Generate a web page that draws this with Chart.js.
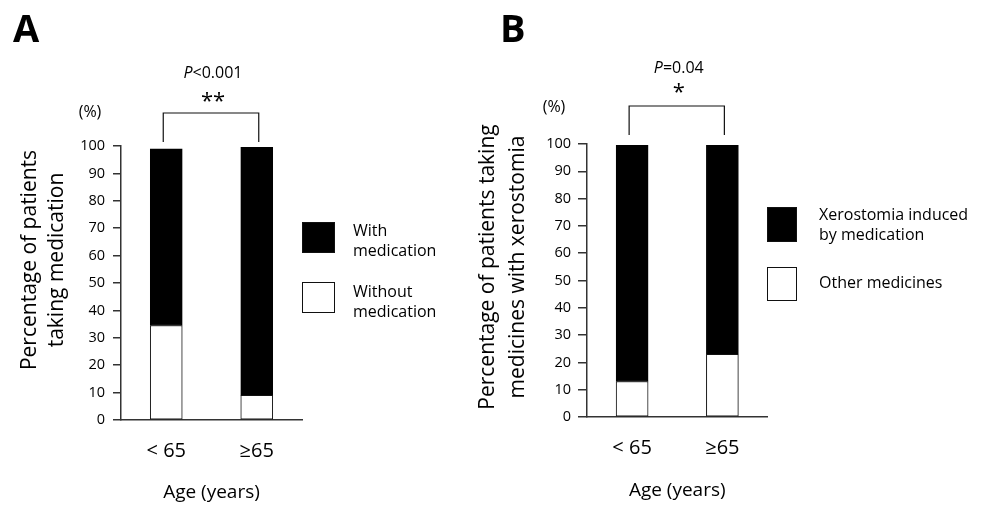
<!DOCTYPE html>
<html>
<head>
<meta charset="utf-8">
<script src="https://cdn.jsdelivr.net/npm/chart.js@4"></script>
<style>
  body { margin: 0; background: #fff; }
  #wrap { position: relative; width: 983px; height: 505px; }
  canvas { position: absolute; top: 0; }
</style>
</head>
<body>
<div id="wrap">
  <canvas id="chartA" width="460" height="505" style="left:0"></canvas>
  <canvas id="chartB" width="523" height="505" style="left:460px"></canvas>
</div>
<script>
// data
const ageGroups = ['< 65', '≥65'];

// panel A
const withoutMedication = [34.5, 9];
const withMedication = [64.5, 90.5];
const legendA = [['With', 'medication'], ['Without', 'medication']];
const yTitleA = ['Percentage of patients', 'taking medication'];

// panel B
const otherMedicines = [13, 23];
const xerostomiaByMedication = [86.5, 76.5];
const legendB = [['Xerostomia induced', 'by medication'], ['Other medicines']];
const yTitleB = ['Percentage of patients taking', 'medicines with xerostomia'];

const xTitle = 'Age (years)';
const yMin = 0, yMax = 100, yStep = 10;

const FONT = '"Open Sans", "DejaVu Sans", sans-serif';
const INK = '#111';

// extra drawing: panel letter, y title, (%), bracket, p value, legend
const decor = {
  id: 'decor',
  afterDraw(chart, args, o) {
    const ctx = chart.ctx;
    ctx.save();
    ctx.fillStyle = '#000';

    // panel letter
    ctx.font = 'bold 38px ' + FONT;
    ctx.textAlign = 'left';
    ctx.textBaseline = 'alphabetic';
    ctx.fillText(o.letter, o.letterX, 42);

    // rotated y title
    ctx.save();
    ctx.translate(o.yTitleX, o.yTitleY);
    ctx.rotate(-Math.PI / 2);
    ctx.font = '21px ' + FONT;
    ctx.textAlign = 'center';
    ctx.textBaseline = 'middle';
    const n = o.yTitle.length;
    o.yTitle.forEach((t, i) => ctx.fillText(t, 0, (i - (n - 1) / 2) * o.yTitleGap));
    ctx.restore();

    // (%)
    ctx.font = '16px ' + FONT;
    ctx.textAlign = 'center';
    ctx.textBaseline = 'middle';
    ctx.fillText('(%)', o.pctX, o.pctY);

    // significance bracket over the two bars
    const meta = chart.getDatasetMeta(1);
    const x1 = meta.data[0].x - 3, x2 = meta.data[1].x + 2;
    ctx.strokeStyle = INK;
    ctx.lineWidth = 1.2;
    ctx.beginPath();
    ctx.moveTo(x1, o.brBottom);
    ctx.lineTo(x1, o.brTop);
    ctx.lineTo(x2, o.brTop);
    ctx.lineTo(x2, o.brBottom);
    ctx.stroke();
    const mid = (x1 + x2) / 2 + 2;

    ctx.font = '22px ' + FONT;
    ctx.textBaseline = 'alphabetic';
    ctx.fillText(o.stars, mid, o.starsY);

    // P value, italic P
    const fP = 'italic 16px ' + FONT, fR = '16px ' + FONT;
    ctx.font = fP; const wP = ctx.measureText('P').width;
    ctx.font = fR; const wR = ctx.measureText(o.pRest).width;
    let px = mid - (wP + wR) / 2;
    ctx.textAlign = 'left';
    ctx.textBaseline = 'middle';
    ctx.font = fP; ctx.fillText('P', px, o.pY);
    ctx.font = fR; ctx.fillText(o.pRest, px + wP, o.pY);

    // legend (black series first, then white)
    const order = [1, 0];
    ctx.font = '16px ' + FONT;
    order.forEach((di, k) => {
      const ds = chart.data.datasets[di];
      const b = o.legendBoxes[k];
      ctx.fillStyle = ds.backgroundColor;
      ctx.fillRect(b[0], b[1], b[2], b[3]);
      ctx.strokeStyle = INK;
      ctx.lineWidth = 1;
      ctx.strokeRect(b[0] + 0.5, b[1] + 0.5, b[2] - 1, b[3] - 1);
      ctx.fillStyle = '#000';
      o.legendText[di].forEach((t, i) => ctx.fillText(t, o.legendTextX, o.legendTextY[k] + i * 20));
    });

    ctx.restore();
  }
};

function makePanel(id, low, high, lowLabel, highLabel, lay) {
  return new Chart(document.getElementById(id), {
    type: 'bar',
    data: {
      labels: ageGroups,
      datasets: [
        { label: lowLabel, data: low, backgroundColor: '#ffffff', borderColor: INK, borderWidth: 1, barThickness: 32, borderSkipped: false },
        { label: highLabel, data: high, backgroundColor: '#000000', borderColor: '#000', borderWidth: 1, barThickness: 32, borderSkipped: false }
      ]
    },
    options: {
      responsive: false,
      animation: false,
      layout: { padding: { top: lay.top, right: lay.right, left: 0, bottom: 0 } },
      plugins: {
        legend: { display: false },
        tooltip: { enabled: false },
        decor: lay.decor
      },
      scales: {
        x: {
          stacked: true,
          grid: { display: true, drawOnChartArea: false, drawTicks: false },
          border: { display: true, color: '#333', width: 1.5 },
          ticks: { color: '#000', font: { family: FONT, size: 20 }, padding: 19 },
          title: { display: true, text: xTitle, color: '#000', font: { family: FONT, size: 19 }, padding: { top: 0, bottom: lay.xTitlePad } },
          afterFit(s) { s.height = lay.xHeight; }
        },
        y: {
          stacked: true,
          min: yMin,
          max: yMax,
          grid: { drawOnChartArea: false, drawTicks: true, tickLength: lay.tickLen, color: '#333', lineWidth: 1.5 },
          border: { display: true, color: '#333', width: 1.5 },
          ticks: { stepSize: yStep, color: '#000', font: { family: FONT, size: 14.5 }, padding: lay.tickPad },
          afterFit(s) { s.width = lay.yWidth; }
        }
      }
    },
    plugins: [decor]
  });
}

makePanel('chartA', withoutMedication, withMedication, legendA[1].join(' '), legendA[0].join(' '), {
  top: 146, right: 158, yWidth: 121, xHeight: 85, tickLen: 8, tickPad: 8, xTitlePad: 1,
  decor: {
    letter: 'A', letterX: 13,
    yTitle: yTitleA, yTitleX: 43.5, yTitleY: 260, yTitleGap: 27,
    pctX: 90, pctY: 112,
    brTop: 113, brBottom: 142,
    stars: '**', starsY: 108,
    pRest: '<0.001', pY: 73,
    legendBoxes: [[302, 222, 33, 31], [302, 282, 33, 31]],
    legendText: [legendA[1], legendA[0]],
    legendTextX: 353, legendTextY: [231, 292]
  }
});

makePanel('chartB', otherMedicines, xerostomiaByMedication, legendB[1].join(' '), legendB[0].join(' '), {
  top: 144, right: 215.5, yWidth: 127, xHeight: 88, tickLen: 9, tickPad: 7, xTitlePad: 3,
  decor: {
    letter: 'B', letterX: 40,
    yTitle: yTitleB, yTitleX: 43, yTitleY: 267, yTitleGap: 30,
    pctX: 94, pctY: 107,
    brTop: 106, brBottom: 135,
    stars: '*', starsY: 99,
    pRest: '=0.04', pY: 68,
    legendBoxes: [[307, 207, 30, 35], [307, 267, 30, 34]],
    legendText: [legendB[1], legendB[0]],
    legendTextX: 359, legendTextY: [215, 283]
  }
});
</script>
</body>
</html>
